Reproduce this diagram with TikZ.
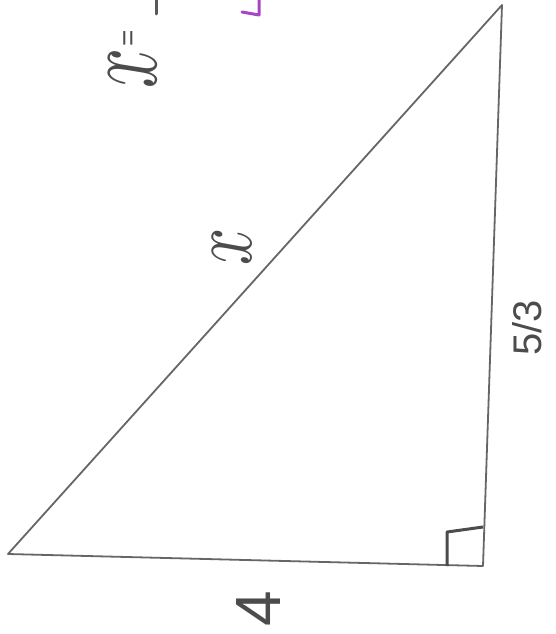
\documentclass[tikz,border=0pt]{standalone}
\usepackage{fontspec}
\setsansfont{Liberation Sans}
\begin{document}
\begin{tikzpicture}[x=1pt,y=-1pt,
  edge/.style={draw=black!60, line width=1.8pt, line join=round},
  rightmark/.style={draw=black!70, line width=3pt, line join=round},
  hand/.style={text=black!70, rotate=90, inner sep=0pt},
  handstroke/.style={line width=3pt, line cap=round}]
\useasboundingbox (0,0) rectangle (556,634);
\coordinate (A) at (502,5);
\coordinate (B) at (8,554);
\coordinate (C) at (483,566);
\draw[edge] (A) -- (B) -- (C) -- cycle;
\coordinate (S1) at (447,566);
\coordinate (S2) at (447,532);
\coordinate (S3) at (483,527);
\draw[rightmark] (S1) -- (S2) -- (S3);
\node[hand] (hyp) at (232,247) {\scalebox{6.5}[9]{$x$}};
\node[hand] (leg1) at (527,328) {\fontsize{40}{40}\selectfont\sffamily 5/3};
\node[hand] (leg2) at (258,609) {\fontsize{64}{64}\selectfont\sffamily 4};
\node[hand] (xans) at (133,68) {\scalebox{7}[11]{$x$}};
\node[hand] (eq) at (131,38) {\fontsize{28}{28}\selectfont\sffamily =};
\coordinate (D1) at (156,0);
\coordinate (D2) at (156,14);
\draw[handstroke, black!65] (D1) -- (D2);
\coordinate (P1) at (259,0);
\coordinate (P2) at (259,15);
\coordinate (P3) at (242,12);
\draw[handstroke, color={rgb,255:red,165;green,70;blue,200}, line join=round] (P1) -- (P2) -- (P3);
\end{tikzpicture}
\end{document}
